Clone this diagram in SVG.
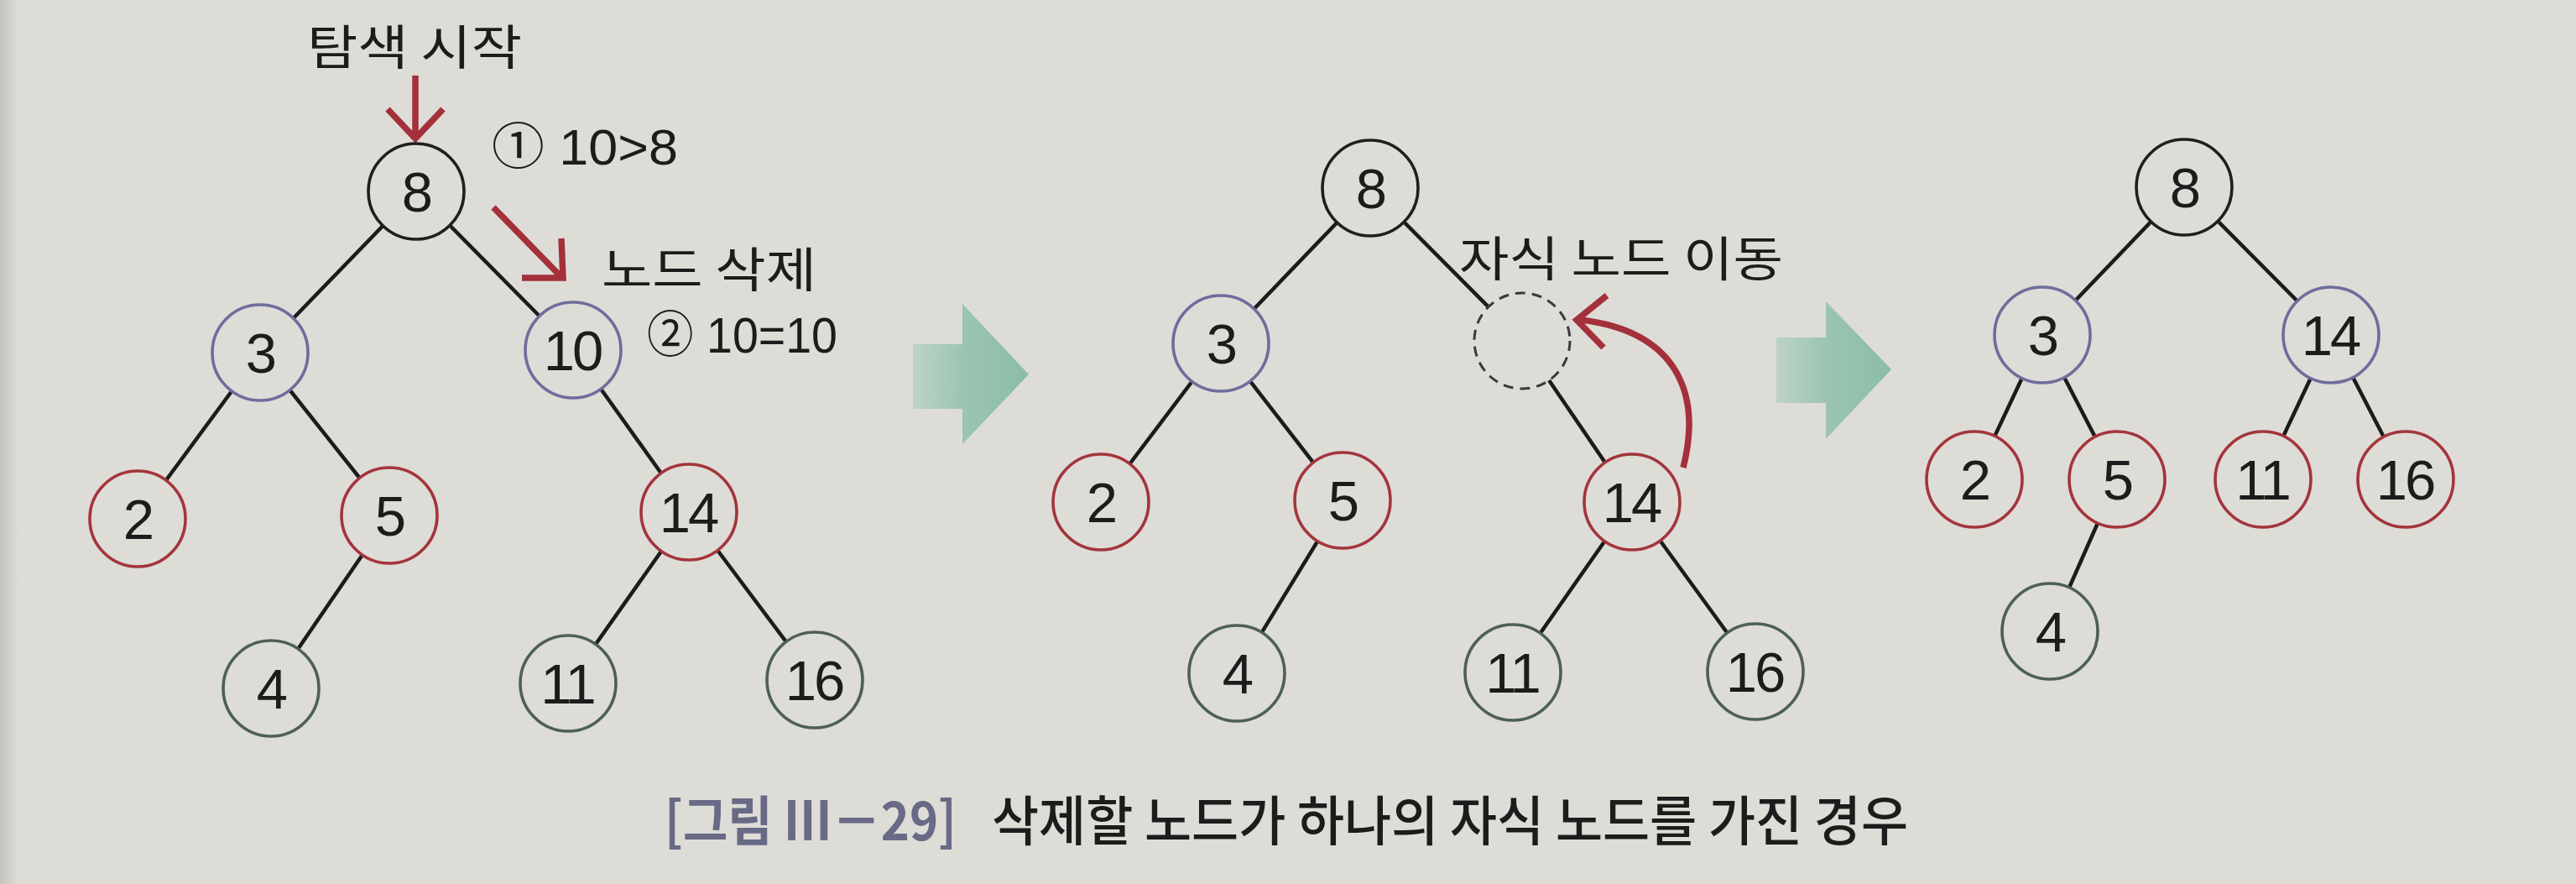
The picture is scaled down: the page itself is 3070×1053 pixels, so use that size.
<svg xmlns="http://www.w3.org/2000/svg" width="3070" height="1053" viewBox="0 0 3070 1053">
<defs>
<style>
.nd{fill:#dedcd7;stroke-width:3.6}
.k{stroke:#1f1f1f}
.b{stroke:#6e6d9c}
.r{stroke:#a3353c}
.g{stroke:#4d5f59}
.dash{fill:#dedcd7;stroke:#3a3a3a;stroke-width:3;stroke-dasharray:12 8}
.num{font-family:"Liberation Sans",Arial,sans-serif;font-size:67px;fill:#1c1c1c;text-anchor:middle;letter-spacing:-3px}
.lbl{font-family:"Noto Sans CJK KR","Noto Sans",sans-serif;font-size:57px;fill:#1c1c1c}
.cmp{font-family:"Liberation Sans","Noto Sans CJK KR",sans-serif;font-size:60px;fill:#1c1c1c}
.edges line{stroke:#1b1b1b;stroke-width:4.5}
.marks .red{fill:none;stroke:#a3303a;stroke-width:7.5}
</style>
<linearGradient id="ga" x1="0" y1="0" x2="1" y2="0">
<stop offset="0" stop-color="#bdd2c7"/>
<stop offset="0.45" stop-color="#9bc4b2"/>
<stop offset="1" stop-color="#8bbda7"/>
</linearGradient>
<linearGradient id="edge" x1="0" y1="0" x2="1" y2="0">
<stop offset="0" stop-color="#c3c2bd"/>
<stop offset="1" stop-color="#dedcd7"/>
</linearGradient>
</defs>
<rect width="3070" height="1053" fill="#dedcd7"/>
<rect width="22" height="1053" fill="url(#edge)"/>

<!-- connectors -->
<g id="connectors" class="edges">
<line x1="496" y1="228" x2="310" y2="420"/>
<line x1="496" y1="228" x2="683" y2="417"/>
<line x1="310" y1="420" x2="164" y2="618"/>
<line x1="310" y1="420" x2="464" y2="614"/>
<line x1="683" y1="417" x2="821" y2="610"/>
<line x1="464" y1="614" x2="323" y2="820"/>
<line x1="821" y1="610" x2="677" y2="814"/>
<line x1="821" y1="610" x2="971" y2="810"/>

<line x1="1633" y1="224" x2="1455" y2="409"/>
<line x1="1633" y1="224" x2="1814" y2="406"/>
<line x1="1455" y1="409" x2="1312" y2="598"/>
<line x1="1455" y1="409" x2="1600" y2="596"/>
<line x1="1814" y1="406" x2="1945" y2="598"/>
<line x1="1600" y1="596" x2="1474" y2="802"/>
<line x1="1945" y1="598" x2="1803" y2="801"/>
<line x1="1945" y1="598" x2="2092" y2="800"/>

<line x1="2603" y1="223" x2="2434" y2="399"/>
<line x1="2603" y1="223" x2="2778" y2="399"/>
<line x1="2434" y1="399" x2="2353" y2="571"/>
<line x1="2434" y1="399" x2="2523" y2="571"/>
<line x1="2778" y1="399" x2="2697" y2="571"/>
<line x1="2778" y1="399" x2="2867" y2="571"/>
<line x1="2523" y1="571" x2="2443" y2="752"/>
</g>

<!-- red arrows -->
<g id="red-arrows" class="marks">
<line class="red" x1="495" y1="90" x2="495" y2="164"/>
<polyline class="red" points="462,130 495,165 528,130"/>
<line class="red" x1="588" y1="247" x2="669" y2="330"/>
<polyline class="red" points="622,331 671,331 669,284"/>
<path class="red" d="M2006,557 C2028,470 2000,395 1884,381"/>
<polyline class="red" points="1915,352 1879,381 1911,414"/>
</g>

<!-- panel 1 -->
<g id="p1-n8"><circle class="nd k" cx="496" cy="228" r="57"/><text class="num" x="496" y="252">8</text></g>
<g id="p1-n3"><circle class="nd b" cx="310" cy="420" r="57"/><text class="num" x="310" y="444">3</text></g>
<g id="p1-n10"><circle class="nd b" cx="683" cy="417" r="57"/><text class="num" x="682" y="441">10</text></g>
<g id="p1-n2"><circle class="nd r" cx="164" cy="618" r="57"/><text class="num" x="164" y="642">2</text></g>
<g id="p1-n5"><circle class="nd r" cx="464" cy="614" r="57"/><text class="num" x="464" y="638">5</text></g>
<g id="p1-n14"><circle class="nd r" cx="821" cy="610" r="57"/><text class="num" x="820" y="634">14</text></g>
<g id="p1-n4"><circle class="nd g" cx="323" cy="820" r="57"/><text class="num" x="323" y="844">4</text></g>
<g id="p1-n11"><circle class="nd g" cx="677" cy="814" r="57"/><text class="num" x="676" y="838">11</text></g>
<g id="p1-n16"><circle class="nd g" cx="971" cy="810" r="57"/><text class="num" x="970" y="834">16</text></g>

<g id="p1-labels">
<text class="lbl" x="366" y="77" textLength="256" lengthAdjust="spacingAndGlyphs">탐색 시작</text>
<text class="cmp" x="586" y="196" textLength="222" lengthAdjust="spacingAndGlyphs">① 10&gt;8</text>
<text class="lbl" x="717" y="342" textLength="256" lengthAdjust="spacingAndGlyphs">노드 삭제</text>
<text class="cmp" x="771" y="420" textLength="227" lengthAdjust="spacingAndGlyphs">② 10=10</text>
</g>

<!-- green arrows -->
<g id="arrow1"><polygon fill="url(#ga)" points="1088,410 1147,410 1147,362 1226,446 1147,529 1147,487 1088,487"/></g>
<g id="arrow2"><polygon fill="url(#ga)" points="2117,402 2176,402 2176,359 2254,440 2176,523 2176,480 2117,480"/></g>

<!-- panel 2 -->
<g id="p2-n8"><circle class="nd k" cx="1633" cy="224" r="57"/><text class="num" x="1633" y="248">8</text></g>
<g id="p2-n3"><circle class="nd b" cx="1455" cy="409" r="57"/><text class="num" x="1455" y="433">3</text></g>
<g id="p2-empty"><circle class="dash" cx="1814" cy="406" r="57"/></g>
<g id="p2-n2"><circle class="nd r" cx="1312" cy="598" r="57"/><text class="num" x="1312" y="622">2</text></g>
<g id="p2-n5"><circle class="nd r" cx="1600" cy="596" r="57"/><text class="num" x="1600" y="620">5</text></g>
<g id="p2-n14"><circle class="nd r" cx="1945" cy="598" r="57"/><text class="num" x="1944" y="622">14</text></g>
<g id="p2-n4"><circle class="nd g" cx="1474" cy="802" r="57"/><text class="num" x="1474" y="826">4</text></g>
<g id="p2-n11"><circle class="nd g" cx="1803" cy="801" r="57"/><text class="num" x="1802" y="825">11</text></g>
<g id="p2-n16"><circle class="nd g" cx="2092" cy="800" r="57"/><text class="num" x="2091" y="824">16</text></g>
<g id="p2-labels">
<text class="lbl" x="1739" y="329" textLength="386" lengthAdjust="spacingAndGlyphs">자식 노드 이동</text>
</g>

<!-- panel 3 -->
<g id="p3-n8"><circle class="nd k" cx="2603" cy="223" r="57"/><text class="num" x="2603" y="247">8</text></g>
<g id="p3-n3"><circle class="nd b" cx="2434" cy="399" r="57"/><text class="num" x="2434" y="423">3</text></g>
<g id="p3-n14"><circle class="nd b" cx="2778" cy="399" r="57"/><text class="num" x="2777" y="423">14</text></g>
<g id="p3-n2"><circle class="nd r" cx="2353" cy="571" r="57"/><text class="num" x="2353" y="595">2</text></g>
<g id="p3-n5"><circle class="nd r" cx="2523" cy="571" r="57"/><text class="num" x="2523" y="595">5</text></g>
<g id="p3-n11"><circle class="nd r" cx="2697" cy="571" r="57"/><text class="num" x="2696" y="595">11</text></g>
<g id="p3-n16"><circle class="nd r" cx="2867" cy="571" r="57"/><text class="num" x="2866" y="595">16</text></g>
<g id="p3-n4"><circle class="nd g" cx="2443" cy="752" r="57"/><text class="num" x="2443" y="776">4</text></g>

<!-- caption -->
<g id="caption">
<text x="792" y="1001" font-family="'Noto Sans CJK KR','Liberation Sans',sans-serif" font-size="64" font-weight="700" fill="#686a86" textLength="348" lengthAdjust="spacingAndGlyphs">[그림 Ⅲ－29]</text>
<text x="1182" y="1001" font-family="'Noto Sans CJK KR','Noto Sans',sans-serif" font-size="64" font-weight="500" fill="#1c1c1c" textLength="1092" lengthAdjust="spacingAndGlyphs">삭제할 노드가 하나의 자식 노드를 가진 경우</text>
</g>
</svg>
